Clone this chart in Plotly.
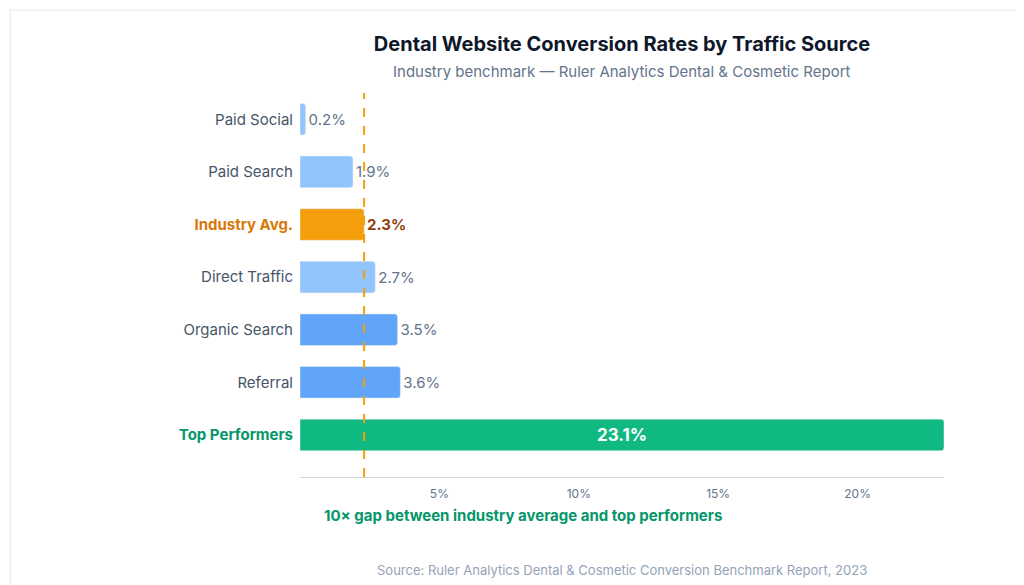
import plotly.graph_objects as go

categories = ["Paid Social", "Paid Search", "Industry Avg.", "Direct Traffic", "Organic Search", "Referral", "Top Performers"]
values = [0.2, 1.9, 2.3, 2.7, 3.5, 3.6, 23.1]
bar_colors = ["#93c5fd", "#93c5fd", "#f59e0b", "#93c5fd", "#60a5fa", "#60a5fa", "#10b981"]
industry_avg = 2.3
tick_vals = [5, 10, 15, 20]
tick_text = ["5%", "10%", "15%", "20%"]

label_html = []
for c in categories:
    if c == "Industry Avg.":
        label_html.append("<b><span style='color:#d97706'>%s</span></b>" % c)
    elif c == "Top Performers":
        label_html.append("<b><span style='color:#059669'>%s</span></b>" % c)
    else:
        label_html.append(c)

text = []
tpos = []
tcolors = []
for c, v in zip(categories, values):
    if c == "Top Performers":
        text.append("<b>%.1f%%</b>" % v); tpos.append("inside"); tcolors.append("white")
    elif c == "Industry Avg.":
        text.append("<b>%.1f%%</b>" % v); tpos.append("outside"); tcolors.append("#92400e")
    else:
        text.append("%.1f%%" % v); tpos.append("outside"); tcolors.append("#64748b")

fig = go.Figure(go.Bar(
    x=values, y=label_html, orientation="h",
    marker=dict(color=bar_colors, cornerradius=3),
    text=text, textposition=tpos, insidetextanchor="middle",
    textfont=dict(color=tcolors, size=15), cliponaxis=False,
    hoverinfo="skip",
))
fig.update_traces(outsidetextfont=dict(size=15), insidetextfont=dict(size=17, color="white"))

fig.add_shape(type="line", x0=industry_avg, x1=industry_avg, xref="x", yref="paper",
              y0=0, y1=1.0, line=dict(color="#f59e0b", width=2, dash="dash"))
fig.add_shape(type="rect", xref="paper", yref="paper", x0=-0.45, x1=1.132,
              y0=-0.297, y1=1.216, line=dict(color="#e2e8f0", width=1), layer="below")

fig.update_layout(
    width=1024, height=585,
    margin=dict(l=292, r=88, t=85, b=116, autoexpand=False),
    paper_bgcolor="white", plot_bgcolor="white",
    font=dict(family="Inter", color="#475569", size=15),
    title=dict(text="<b>Dental Website Conversion Rates by Traffic Source</b>",
               x=0.5, xref="paper", y=0.938, yanchor="middle", xanchor="center",
               font=dict(size=20, color="#0f172a")),
    showlegend=False, bargap=0.4,
    xaxis=dict(range=[0, 23.1], tickvals=tick_vals, ticktext=tick_text, showgrid=False,
               zeroline=False, showline=True, linecolor="#cbd5e1", automargin=False,
               tickfont=dict(size=12, color="#64748b"), ticks="", ticklabelstandoff=6),
    yaxis=dict(autorange=False, range=[6.8, -0.5], showgrid=False, zeroline=False,
               automargin=False, ticks="", ticklabelstandoff=6,
               tickfont=dict(size=15, color="#475569")),
    annotations=[
        dict(text="Industry benchmark — Ruler Analytics Dental & Cosmetic Report",
             xref="paper", yref="paper", x=0.5, y=1.055, yanchor="middle", showarrow=False,
             font=dict(size=15, color="#64748b"), xanchor="center"),
        dict(text="<b>10× gap between industry average and top performers</b>",
             xref="paper", yref="paper", x=0.034, y=-0.099, xanchor="left", yanchor="middle",
             showarrow=False, font=dict(size=15, color="#059669")),
        dict(text="Source: Ruler Analytics Dental & Cosmetic Conversion Benchmark Report, 2023",
             xref="paper", yref="paper", x=0.5, y=-0.242, xanchor="center", yanchor="middle",
             showarrow=False, font=dict(size=13, color="#94a3b8")),
    ],
)
fig.write_html("out.html")
